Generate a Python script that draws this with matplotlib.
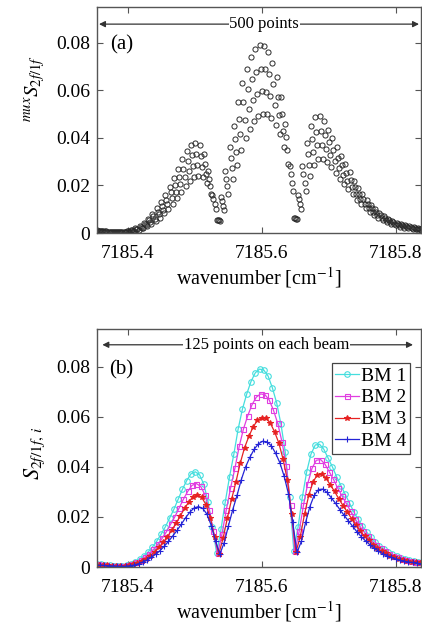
import numpy as np
import matplotlib
matplotlib.use("Agg")
import matplotlib.pyplot as plt

plt.rcParams['font.family'] = ['Liberation Serif', 'DejaVu Serif']
plt.rcParams['mathtext.fontset'] = 'stix'

# Multiplexed sampling grid: 500 samples, beams interleaved (sample k -> beam k % 4)
mux_start = 7185.20
mux_step = 0.0016
n_mux = 500

beam_labels = ["BM 1", "BM 2", "BM 3", "BM 4"]

bm1 = [0.0015, 0.0015, 0.0016, 0.0016, 0.0017, 0.0017, 0.0018, 0.0018, 0.0018, 0.0018, 0.0017, 0.0017,
       0.0016, 0.0016, 0.0015, 0.0015, 0.0014, 0.0014, 0.0013, 0.0013, 0.0013, 0.0012, 0.0012, 0.0012,
       0.0011, 0.0010, 0.0008, 0.0006, 0.0004, 0.0004, 0.0005, 0.0008,
       0.0013, 0.0021, 0.0031, 0.0044, 0.0060, 0.0080, 0.0103, 0.0130,
       0.0160, 0.0195, 0.0230, 0.0270, 0.0310, 0.0345, 0.0372, 0.0380,
       0.0368, 0.0330, 0.0260, 0.0160, 0.0055,
       0.0150, 0.0260, 0.0360, 0.0450, 0.0550, 0.0630, 0.0690, 0.0740, 0.0775, 0.0790,
       0.0786, 0.0762, 0.0715, 0.0655, 0.0570, 0.0460, 0.0280, 0.0065,
       0.0160, 0.0280, 0.0380, 0.0450, 0.0487, 0.0490, 0.0470, 0.0435,
       0.0400, 0.0360, 0.0325, 0.0290, 0.0255, 0.0220, 0.0190, 0.0163, 0.0140, 0.0118, 0.0099, 0.0084,
       0.0071, 0.0060, 0.0051, 0.0043, 0.0037, 0.0032, 0.0028, 0.0024, 0.0021, 0.0019,
       0.0017, 0.0016, 0.0015, 0.0014, 0.0013, 0.0012, 0.0011, 0.0011, 0.0010, 0.0010, 0.0009, 0.0009,
       0.0008, 0.0008, 0.0008, 0.0007, 0.0007, 0.0007, 0.0006, 0.0006, 0.0006, 0.0006, 0.0005, 0.0005]

bm2 = [0.0013, 0.0013, 0.0014, 0.0014, 0.0015, 0.0015, 0.0016, 0.0016, 0.0016, 0.0016, 0.0015, 0.0015,
       0.0014, 0.0014, 0.0013, 0.0013, 0.0012, 0.0012, 0.0011, 0.0011, 0.0011, 0.0011, 0.0011, 0.0010,
       0.0010, 0.0009, 0.0007, 0.0005, 0.0004, 0.0004, 0.0004, 0.0007,
       0.0011, 0.0018, 0.0027, 0.0039, 0.0053, 0.0070, 0.0090, 0.0114,
       0.0140, 0.0171, 0.0201, 0.0236, 0.0271, 0.0302, 0.0326, 0.0333,
       0.0322, 0.0289, 0.0228, 0.0142, 0.0054,
       0.0133, 0.0229, 0.0316, 0.0394, 0.0481, 0.0551, 0.0604, 0.0648, 0.0678, 0.0691,
       0.0688, 0.0667, 0.0626, 0.0573, 0.0499, 0.0403, 0.0247, 0.0062,
       0.0142, 0.0246, 0.0333, 0.0394, 0.0426, 0.0429, 0.0411, 0.0381,
       0.0350, 0.0315, 0.0284, 0.0254, 0.0223, 0.0193, 0.0166, 0.0143, 0.0123, 0.0103, 0.0087, 0.0074,
       0.0062, 0.0053, 0.0045, 0.0038, 0.0032, 0.0028, 0.0025, 0.0021, 0.0018, 0.0017,
       0.0015, 0.0014, 0.0013, 0.0012, 0.0011, 0.0011, 0.0010, 0.0010, 0.0009, 0.0009, 0.0008, 0.0008,
       0.0007, 0.0007, 0.0007, 0.0006, 0.0006, 0.0006, 0.0005, 0.0005, 0.0005, 0.0005, 0.0004, 0.0004]

bm3 = [0.0011, 0.0011, 0.0012, 0.0012, 0.0013, 0.0013, 0.0014, 0.0014, 0.0014, 0.0014, 0.0013, 0.0013,
       0.0012, 0.0012, 0.0011, 0.0011, 0.0011, 0.0011, 0.0010, 0.0010, 0.0010, 0.0009, 0.0009, 0.0009,
       0.0008, 0.0008, 0.0006, 0.0005, 0.0003, 0.0003, 0.0004, 0.0006,
       0.0010, 0.0016, 0.0023, 0.0033, 0.0045, 0.0060, 0.0078, 0.0098,
       0.0121, 0.0147, 0.0174, 0.0204, 0.0234, 0.0260, 0.0281, 0.0287,
       0.0278, 0.0249, 0.0196, 0.0121, 0.0053,
       0.0115, 0.0196, 0.0272, 0.0340, 0.0415, 0.0476, 0.0521, 0.0559, 0.0585, 0.0596,
       0.0593, 0.0575, 0.0540, 0.0495, 0.0430, 0.0347, 0.0211, 0.0060,
       0.0121, 0.0211, 0.0287, 0.0340, 0.0368, 0.0370, 0.0355, 0.0328,
       0.0302, 0.0272, 0.0245, 0.0219, 0.0193, 0.0166, 0.0143, 0.0123, 0.0106, 0.0089, 0.0075, 0.0063,
       0.0054, 0.0045, 0.0039, 0.0032, 0.0028, 0.0024, 0.0021, 0.0018, 0.0016, 0.0014,
       0.0013, 0.0012, 0.0011, 0.0011, 0.0010, 0.0009, 0.0008, 0.0008, 0.0008, 0.0008, 0.0007, 0.0007,
       0.0006, 0.0006, 0.0006, 0.0005, 0.0005, 0.0005, 0.0005, 0.0005, 0.0005, 0.0005, 0.0004, 0.0004]

bm4 = [0.0010, 0.0010, 0.0010, 0.0010, 0.0011, 0.0011, 0.0011, 0.0011, 0.0011, 0.0011, 0.0011, 0.0011,
       0.0010, 0.0010, 0.0010, 0.0010, 0.0009, 0.0009, 0.0008, 0.0008, 0.0008, 0.0008, 0.0008, 0.0008,
       0.0007, 0.0006, 0.0005, 0.0004, 0.0003, 0.0003, 0.0003, 0.0005,
       0.0008, 0.0013, 0.0020, 0.0028, 0.0038, 0.0051, 0.0065, 0.0083,
       0.0102, 0.0124, 0.0146, 0.0171, 0.0197, 0.0219, 0.0236, 0.0241,
       0.0234, 0.0210, 0.0165, 0.0102, 0.0052,
       0.0097, 0.0165, 0.0229, 0.0286, 0.0349, 0.0400, 0.0438, 0.0470, 0.0492, 0.0502,
       0.0499, 0.0484, 0.0454, 0.0416, 0.0362, 0.0292, 0.0178, 0.0058,
       0.0102, 0.0178, 0.0241, 0.0286, 0.0309, 0.0311, 0.0298, 0.0276,
       0.0254, 0.0229, 0.0206, 0.0184, 0.0162, 0.0140, 0.0121, 0.0104, 0.0089, 0.0075, 0.0063, 0.0053,
       0.0045, 0.0038, 0.0032, 0.0027, 0.0023, 0.0020, 0.0018, 0.0015, 0.0013, 0.0012,
       0.0011, 0.0010, 0.0010, 0.0009, 0.0008, 0.0008, 0.0007, 0.0007, 0.0006, 0.0006, 0.0006, 0.0006,
       0.0005, 0.0005, 0.0005, 0.0004, 0.0004, 0.0004, 0.0004, 0.0004, 0.0004, 0.0004, 0.0003, 0.0003]

x_ticks = [7185.4, 7185.6, 7185.8]
y_ticks = [0, 0.02, 0.04, 0.06, 0.08]
y_ticklabels = ["0", "0.02", "0.04", "0.06", "0.08"]

beams = [np.array(b) for b in (bm1, bm2, bm3, bm4)]
x_mux = mux_start + mux_step * np.arange(n_mux)
mux = np.empty(n_mux)
for i, b in enumerate(beams):
    mux[i::4] = b

colors = ['#45dede', '#e03ee0', '#e62222', '#2424d6']
markers = ['o', 's', '*', '+']
msizes = [4.0, 3.6, 4.2, 4.6]

W, H = 422, 628
fig = plt.figure(figsize=(W / 100, H / 100), dpi=100)
ax1 = fig.add_axes([97 / W, (H - 233) / H, 324 / W, 226 / H])
ax2 = fig.add_axes([97 / W, (H - 567) / H, 324 / W, 238 / H])

spine_col = '#555555'
for ax in (ax1, ax2):
    ax.set_xlim(7185.354, 7185.838)
    ax.set_ylim(0, 0.095)
    ax.set_xticks(x_ticks)
    ax.set_xticklabels([f"{t:.1f}" for t in x_ticks])
    ax.set_yticks(y_ticks)
    ax.set_yticklabels(y_ticklabels)
    ax.tick_params(direction='in', length=4, width=0.8, top=True, right=True,
                   labelsize=14, color=spine_col)
    ax.tick_params(axis='x', pad=9)
    ax.tick_params(axis='y', pad=5)
    for s in ax.spines.values():
        s.set_color(spine_col)
        s.set_linewidth(1.0)
    ax.set_xlabel('wavenumber [cm$^{-1}$]', fontsize=14.5, labelpad=2)

# (a) multiplexed samples
ax1.plot(x_mux, mux, 'o', mfc='none', mec='#2a2a2a', ms=3.7, mew=0.7, clip_on=True)
ax1.set_ylabel(r'$^{mux}S_{2f/1f}$', fontsize=15)
ax1.yaxis.set_label_coords(-0.155, 0.64)
ax1.text(7185.391, 0.0789, '(a)', fontsize=15, ha='center', va='center')
ax1.annotate('', xy=(7185.357, 0.0878), xytext=(7185.835, 0.0878),
             arrowprops=dict(arrowstyle='<|-|>', color='#333333', lw=0.9,
                             mutation_scale=9, shrinkA=0, shrinkB=0))
ax1.text(7185.604, 0.0878, '500 points', fontsize=12, ha='center', va='center',
         bbox=dict(facecolor='white', edgecolor='none', pad=0.5))

# (b) individual beams
for i, b in enumerate(beams):
    mfc = colors[i] if markers[i] == '*' else 'none'
    ax2.plot(x_mux[i::4], b, '-', color=colors[i], lw=0.9, marker=markers[i],
             ms=msizes[i], mfc=mfc, mec=colors[i], mew=0.8, label=beam_labels[i])
ax2.set_ylabel(r'$S_{2f/1f,\,i}$', fontsize=16)
ax2.yaxis.set_label_coords(-0.155, 0.48)
ax2.text(7185.39, 0.0787, '(b)', fontsize=15, ha='center', va='center')
ax2.annotate('', xy=(7185.362, 0.0887), xytext=(7185.826, 0.0887),
             arrowprops=dict(arrowstyle='<|-|>', color='#333333', lw=0.9,
                             mutation_scale=9, shrinkA=0, shrinkB=0))
ax2.text(7185.607, 0.0887, '125 points on each beam', fontsize=12, ha='center', va='center',
         bbox=dict(facecolor='white', edgecolor='none', pad=0.5))
leg = ax2.legend(loc='upper right', bbox_to_anchor=(0.966, 0.857), borderaxespad=0,
                 fontsize=14, handlelength=1.2, handletextpad=0.1, labelspacing=0.22,
                 borderpad=0.2, fancybox=False, framealpha=1)
leg.get_frame().set_edgecolor('#444444')
leg.get_frame().set_linewidth(0.9)

fig.savefig('out.png', dpi=100)
